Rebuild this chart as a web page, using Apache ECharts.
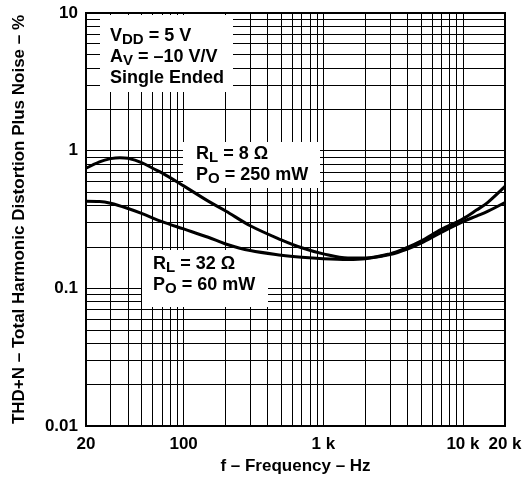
<!DOCTYPE html>
<html><head><meta charset="utf-8">
<script src="https://cdn.jsdelivr.net/npm/echarts@6/dist/echarts.min.js"></script>
<style>html,body{margin:0;padding:0;background:#fff}#c{width:530px;height:482px}</style>
</head><body><div id="c"></div>
<script>
// Data (frequency in Hz, THD+N in %)
const freq8 = [20,25,30,35,40,50,60,70,100,150,200,300,500,700,1000,1500,2000,3000,4000,5000,7000,10000,12500,15000,20000];
const thd8  = [0.745,0.83,0.875,0.89,0.88,0.82,0.745,0.69,0.555,0.43,0.365,0.285,0.225,0.197,0.178,0.166,0.166,0.178,0.198,0.22,0.268,0.32,0.37,0.42,0.55];
const freq32 = [20,25,30,40,50,70,100,150,200,300,500,700,1000,1500,2000,3000,4000,5000,7000,10000,12500,15000,20000];
const thd32  = [0.43,0.428,0.415,0.38,0.35,0.305,0.27,0.235,0.21,0.188,0.174,0.168,0.164,0.162,0.164,0.176,0.193,0.213,0.255,0.305,0.335,0.362,0.42];

// Grid lines
const xGridValues = [30,40,50,60,70,80,90,100,200,300,400,500,600,700,800,900,1000,2000,3000,4000,5000,6000,7000,8000,9000,10000];
const yGridValues = [0.02,0.03,0.04,0.05,0.06,0.07,0.08,0.09,0.1,0.2,0.3,0.4,0.5,0.6,0.7,0.8,0.9,1,2,3,4,5,6,7,8,9];

// Tick labels
const xTickValues = [20,100,1000,10000,20000];
const xTickLabels = ['20','100','1 k','10 k','20 k'];
const yTickValues = [0.01,0.1,1,10];
const yTickLabels = ['0.01','0.1','1','10'];

function nearestLabel(v, vals, labels){
  let best = 0, bd = Infinity;
  vals.forEach((t,i)=>{ const d = Math.abs(Math.log10(v) - Math.log10(t)); if (d < bd){bd=d;best=i;} });
  return bd < 0.01 ? labels[best] : '';
}

const FONT = "'Liberation Sans', Arial, Helvetica, sans-serif";
const txt = {fontFamily: FONT, fontWeight: 'bold', fontSize: 17, color: '#000'};
const rich = {
  m: {fontFamily: FONT, fontWeight: 'bold', fontSize: 18, lineHeight: 21, fill: '#000', color: '#000'},
  s: {fontFamily: FONT, fontWeight: 'bold', fontSize: 15, lineHeight: 12, verticalAlign: 'bottom', fill: '#000', color: '#000'}
};

const chart = echarts.init(document.getElementById('c'), null, {renderer: 'canvas'});
chart.setOption({
  animation: false,
  backgroundColor: '#fff',
  grid: {left: 86, right: 25, top: 13, bottom: 56, show: true, borderColor: '#000', borderWidth: 2, backgroundColor: 'transparent'},
  xAxis: {
    type: 'log', logBase: 10, min: 20, max: 20000,
    axisLine: {show: false}, axisTick: {show: false}, splitLine: {show: false},
    axisLabel: Object.assign({margin: 10, formatter: v => nearestLabel(v, xTickValues, xTickLabels)}, txt),
    name: 'f – Frequency – Hz', nameLocation: 'middle', nameGap: 30,
    nameTextStyle: txt
  },
  yAxis: {
    type: 'log', logBase: 10, min: 0.01, max: 10,
    axisLine: {show: false}, axisTick: {show: false}, splitLine: {show: false},
    axisLabel: Object.assign({margin: 8, formatter: v => nearestLabel(v, yTickValues, yTickLabels)}, txt),
    name: 'THD+N – Total Harmonic Distortion Plus Noise – %', nameLocation: 'middle', nameGap: 58,
    nameTextStyle: txt
  },
  series: [
    {
      type: 'line', data: [], z: 1, silent: true,
      markLine: {
        silent: true, symbol: 'none', label: {show: false}, animation: false,
        lineStyle: {color: '#000', width: 1, type: 'solid'},
        emphasis: {disabled: true},
        data: xGridValues.map(v => ({xAxis: v})).concat(yGridValues.map(v => ({yAxis: v})))
      }
    },
    {
      name: 'RL = 8', type: 'line', z: 20, smooth: 0.35, symbol: 'none',
      lineStyle: {color: '#000', width: 3},
      data: freq8.map((f,i) => [f, thd8[i]])
    },
    {
      name: 'RL = 32', type: 'line', z: 20, smooth: 0.35, symbol: 'none',
      lineStyle: {color: '#000', width: 3},
      data: freq32.map((f,i) => [f, thd32[i]])
    }
  ],
  graphic: {elements: [
    {type: 'rect', z: 10, shape: {x: 100, y: 15, width: 133, height: 77}, style: {fill: '#fff'}},
    {type: 'text', z: 11, x: 110, y: 26, style: {text: '{m|V}{s|DD}{m| = 5 V}\n{m|A}{s|V}{m| = –10 V/V}\n{m|Single Ended}', rich: rich, align: 'left', verticalAlign: 'top', fill: '#000'}},
    {type: 'rect', z: 10, shape: {x: 183, y: 142, width: 137, height: 46}, style: {fill: '#fff'}},
    {type: 'text', z: 11, x: 196, y: 144, style: {text: '{m|R}{s|L}{m| = 8 Ω}\n{m|P}{s|O}{m| = 250 mW}', rich: rich, align: 'left', verticalAlign: 'top', fill: '#000'}},
    {type: 'rect', z: 10, shape: {x: 142, y: 250, width: 126, height: 57}, style: {fill: '#fff'}},
    {type: 'text', z: 11, x: 153, y: 254, style: {text: '{m|R}{s|L}{m| = 32 Ω}\n{m|P}{s|O}{m| = 60 mW}', rich: rich, align: 'left', verticalAlign: 'top', fill: '#000'}}
  ]}
});
</script></body></html>
